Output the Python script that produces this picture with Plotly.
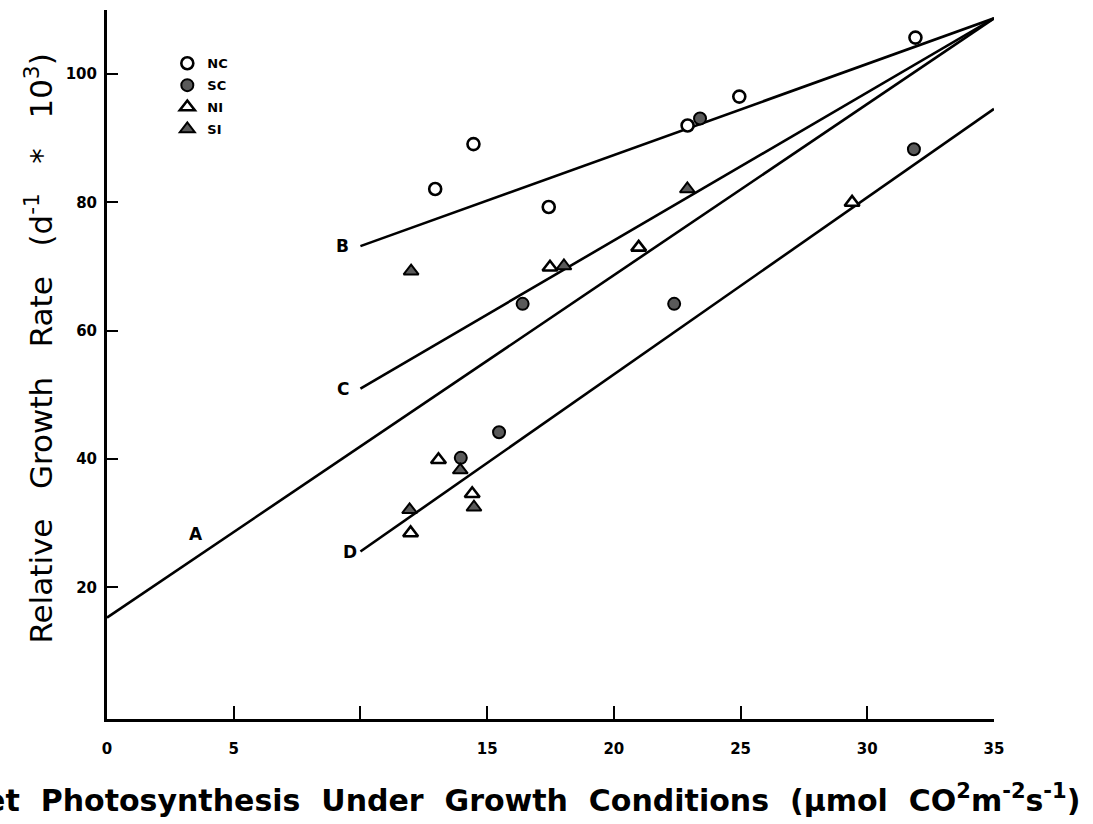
import plotly.graph_objects as go

# ---- data ----
nc_x = [12.95, 14.46, 17.43, 22.91, 24.95, 31.9]
nc_y = [82.1, 89.1, 79.3, 92.0, 96.5, 105.7]

sc_x = [13.96, 15.47, 16.4, 22.38, 23.4, 31.84]
sc_y = [40.2, 44.2, 64.2, 64.2, 93.1, 88.3]

ni_x = [11.98, 13.08, 14.41, 17.48, 20.98, 29.4]
ni_y = [28.5, 39.9, 34.6, 69.9, 73.0, 80.0]

si_x = [11.94, 12.0, 13.94, 14.48, 18.03, 22.9]
si_y = [32.1, 69.3, 38.3, 32.5, 70.1, 82.1]

line_names = ["A", "B", "C", "D"]
line_x = {"A": [0, 35], "B": [10, 35], "C": [10, 35], "D": [10, 35]}
line_y = {"A": [15.3, 108.7], "B": [73.2, 108.7], "C": [51.0, 108.7], "D": [25.6, 94.6]}
label_x = {"A": 3.5, "B": 9.3, "C": 9.3, "D": 9.6}
label_y = {"A": 28.4, "B": 73.2, "C": 50.9, "D": 25.6}

x_tickvals = [0, 5, 10, 15, 20, 25, 30, 35]
x_ticktext = ["0", "5", "", "15", "20", "25", "30", "35"]
y_tickvals = [20, 40, 60, 80, 100]
y_ticktext = ["20", "40", "60", "80", "100"]

FONT = "DejaVu Sans, Liberation Sans, Arial, sans-serif"
GRAY = "#5a5a5a"
SP2 = "\u00a0\u00a0"
SP3 = "\u00a0\u00a0\u00a0"

fig = go.Figure()

for n in line_names:
    fig.add_trace(go.Scatter(x=line_x[n], y=line_y[n], mode="lines",
                             line=dict(color="black", width=2.6),
                             showlegend=False, hoverinfo="skip"))

fig.add_trace(go.Scatter(x=nc_x, y=nc_y, mode="markers", name="<b>NC</b>",
                         legendgroup="1",
                         marker=dict(symbol="circle", size=12, color="white",
                                     line=dict(color="black", width=2.6))))
fig.add_trace(go.Scatter(x=sc_x, y=sc_y, mode="markers", name="<b>SC</b>",
                         legendgroup="2",
                         marker=dict(symbol="circle", size=12, color=GRAY,
                                     line=dict(color="black", width=2))))
fig.add_trace(go.Scatter(x=ni_x, y=ni_y, mode="markers", name="<b>NI</b>",
                         legendgroup="3",
                         marker=dict(symbol="triangle-up", size=13, color="white",
                                     line=dict(color="black", width=2.6))))
fig.add_trace(go.Scatter(x=si_x, y=si_y, mode="markers", name="<b>SI</b>",
                         legendgroup="4",
                         marker=dict(symbol="triangle-up", size=13, color=GRAY,
                                     line=dict(color="black", width=2))))

for n in line_names:
    fig.add_annotation(x=label_x[n], y=label_y[n], text="<b>%s</b>" % n,
                       showarrow=False, font=dict(size=17, color="black", family=FONT),
                       xanchor="center", yanchor="middle")

xtitle = SP2.join(["Net", "Photosynthesis", "Under", "Growth", "Conditions",
                   "(µmol", "CO<sup>2</sup>m<sup>-2</sup>s<sup>-1</sup>)"])
fig.add_annotation(xref="paper", yref="paper", x=1.099, y=-0.112,
                   text="<b>" + xtitle + "</b>",
                   showarrow=False, xanchor="right", yanchor="middle",
                   font=dict(size=30, color="black", family=FONT))

ytitle = SP3.join(["Relative", "Growth", "Rate", "(d<sup>-1</sup>", "*", "10<sup>3</sup>)"])
fig.add_annotation(xref="paper", yref="paper", x=-0.077, y=0.522,
                   text=ytitle,
                   showarrow=False, textangle=-90, xanchor="center", yanchor="middle",
                   font=dict(size=31, color="black", family=FONT))

fig.update_layout(
    width=1093, height=824,
    margin=dict(l=107, r=99, t=10, b=105),
    paper_bgcolor="white", plot_bgcolor="white",
    font=dict(family=FONT, color="black"),
    legend=dict(x=0.068, y=0.946, xanchor="left", yanchor="top",
                bgcolor="rgba(0,0,0,0)", font=dict(size=13, family=FONT),
                tracegroupgap=2, itemwidth=30),
    xaxis=dict(range=[0, 35], showgrid=False, zeroline=False,
               showline=True, linecolor="black", linewidth=3,
               ticks="inside", ticklen=13, tickwidth=2, tickcolor="black",
               tickvals=x_tickvals, ticktext=x_ticktext,
               tickfont=dict(size=15, family=FONT, weight="bold"),
               ticklabelstandoff=14),
    yaxis=dict(range=[-0.5, 110], showgrid=False, zeroline=False,
               showline=True, linecolor="black", linewidth=3,
               ticks="inside", ticklen=11, tickwidth=2, tickcolor="black",
               tickvals=y_tickvals, ticktext=y_ticktext,
               tickfont=dict(size=15, family=FONT, weight="bold"),
               ticklabelstandoff=4),
)

fig.write_html("out.html")
